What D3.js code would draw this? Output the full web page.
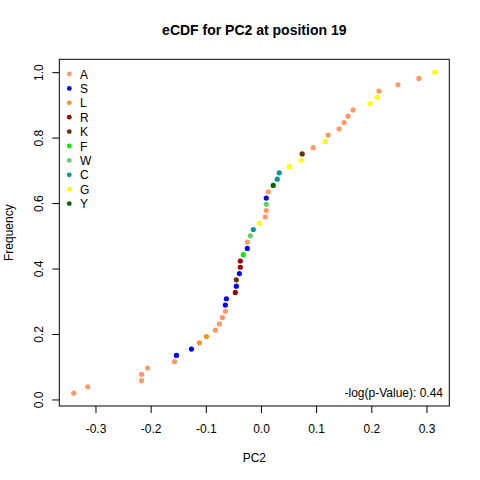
<!DOCTYPE html>
<html lang="en">
<head>
    <meta charset="UTF-8" />
    <title>eCDF for PC2 at position 19</title>
    <script src="https://d3js.org/d3.v7.min.js"></script>
    <style>
        body { margin: 0; background: #fff; }
        text { font-family: "Liberation Sans", Arial, sans-serif; }
    </style>
</head>
<body>
    <script>
        // residue categories shown in the legend, with their colours
        var residues = ["A", "S", "L", "R", "K", "F", "W", "C", "G", "Y"];
        var residueColors = ["#FF9966", "#0000FF", "#F8931F", "#990000", "#663300",
            "#00EE00", "#66CC66", "#009999", "#FFFF00", "#006600"];

        // PC2 values (sorted) and the residue of each observation
        var pc2 = [-0.3394, -0.3141, -0.2165, -0.2165, -0.2056, -0.1568, -0.1532, -0.1260,
            -0.1116, -0.0989, -0.0826, -0.0754, -0.0700, -0.0646, -0.0646, -0.0627,
            -0.0465, -0.0447, -0.0447, -0.0392, -0.0374, -0.0374, -0.0320, -0.0248,
            -0.0248, -0.0193, -0.0139, -0.0031, 0.0078, 0.0096, 0.0096, 0.0096,
            0.0132, 0.0222, 0.0295, 0.0331, 0.0512, 0.0729, 0.0747, 0.0946,
            0.1163, 0.1217, 0.1416, 0.1506, 0.1579, 0.1669, 0.1976, 0.2103,
            0.2139, 0.2483, 0.2863, 0.3152];
        var pointResidue = ["A", "A", "A", "A", "A", "A", "S", "S",
            "L", "L", "A", "A", "A", "A", "S", "S",
            "R", "S", "K", "S", "R", "R", "F", "S",
            "A", "W", "C", "G", "A", "A", "W", "S",
            "A", "Y", "C", "C", "G", "G", "K", "A",
            "G", "A", "A", "A", "A", "A", "G", "G",
            "A", "A", "A", "G"];

        var xTicks = [-0.3, -0.2, -0.1, 0.0, 0.1, 0.2, 0.3];
        var yTicks = [0.0, 0.2, 0.4, 0.6, 0.8, 1.0];
        var pValueText = "-log(p-Value): 0.44";

        var w = 480, h = 480;
        var plotLeft = 59.3, plotRight = 449.3, plotTop = 59.3, plotBottom = 406;

        // empirical CDF: i-th sorted value gets frequency i/n
        var n = pc2.length;
        var points = pc2.map(function (v, i) {
            return { x: v, y: (i + 1) / n, res: pointResidue[i] };
        });

        // R style 4% range extension
        function pad(ext) {
            var d = (ext[1] - ext[0]) * 0.04;
            return [ext[0] - d, ext[1] + d];
        }
        function fmt(d) { return d.toFixed(1); }

        var xScale = d3.scaleLinear()
            .domain(pad(d3.extent(points, function (d) { return d.x; })))
            .range([plotLeft, plotRight]);
        var yScale = d3.scaleLinear()
            .domain(pad(d3.extent(points, function (d) { return d.y; })))
            .range([plotBottom, plotTop]);
        var color = d3.scaleOrdinal().domain(residues).range(residueColors);

        var svg = d3.select("body").append("svg")
            .attr("width", w)
            .attr("height", h);

        // points
        svg.append("g").selectAll("circle")
            .data(points)
            .enter()
            .append("circle")
            .attr("cx", function (d) { return xScale(d.x); })
            .attr("cy", function (d) { return yScale(d.y); })
            .attr("r", 2.6)
            .attr("fill", function (d) { return color(d.res); });

        // axes
        var xAxis = d3.axisBottom(xScale).tickValues(xTicks).tickSize(7).tickSizeOuter(0)
            .tickFormat(fmt);
        var yAxis = d3.axisLeft(yScale).tickValues(yTicks).tickSize(7).tickSizeOuter(0)
            .tickFormat(fmt);

        var gx = svg.append("g")
            .attr("transform", "translate(0," + plotBottom + ")")
            .call(xAxis);
        gx.select(".domain").remove();
        gx.selectAll(".tick line").attr("stroke", "#000");
        gx.selectAll(".tick text")
            .attr("y", 27).attr("dy", null)
            .style("font-size", "12px")
            .style("font-family", "Liberation Sans, Arial, sans-serif")
            .attr("fill", "#000");

        var gy = svg.append("g")
            .attr("transform", "translate(" + plotLeft + ",0)")
            .call(yAxis);
        gy.select(".domain").remove();
        gy.selectAll(".tick line").attr("stroke", "#000");
        gy.selectAll(".tick text")
            .attr("transform", "rotate(-90)")
            .attr("x", 0).attr("y", -16.8).attr("dy", null)
            .attr("text-anchor", "middle")
            .style("font-size", "12px")
            .style("font-family", "Liberation Sans, Arial, sans-serif")
            .attr("fill", "#000");

        // box
        svg.append("rect")
            .attr("x", plotLeft).attr("y", plotTop)
            .attr("width", plotRight - plotLeft).attr("height", plotBottom - plotTop)
            .attr("fill", "none")
            .attr("stroke", "#000");

        // title and labels
        svg.append("text")
            .attr("x", (plotLeft + plotRight) / 2).attr("y", 35)
            .attr("text-anchor", "middle")
            .style("font-size", "14px").style("font-weight", "bold")
            .text("eCDF for PC2 at position 19");

        svg.append("text")
            .attr("x", (plotLeft + plotRight) / 2).attr("y", 462)
            .attr("text-anchor", "middle")
            .style("font-size", "12px")
            .text("PC2");

        svg.append("text")
            .attr("transform", "translate(12.5," + (plotTop + plotBottom) / 2 + ") rotate(-90)")
            .attr("text-anchor", "middle")
            .style("font-size", "12px")
            .text("Frequency");

        svg.append("text")
            .attr("x", 443).attr("y", 397)
            .attr("text-anchor", "end")
            .style("font-size", "12px")
            .text(pValueText);

        // legend
        var legend = svg.append("g").selectAll("g")
            .data(residues)
            .enter()
            .append("g")
            .attr("transform", function (d, i) {
                return "translate(69.3," + (74 + i * 14.4) + ")";
            });
        legend.append("circle")
            .attr("r", 2.4)
            .attr("fill", function (d) { return color(d); });
        legend.append("text")
            .attr("x", 10.7).attr("y", 4.5)
            .style("font-size", "12px")
            .text(function (d) { return d; });
    </script>
</body>
</html>
